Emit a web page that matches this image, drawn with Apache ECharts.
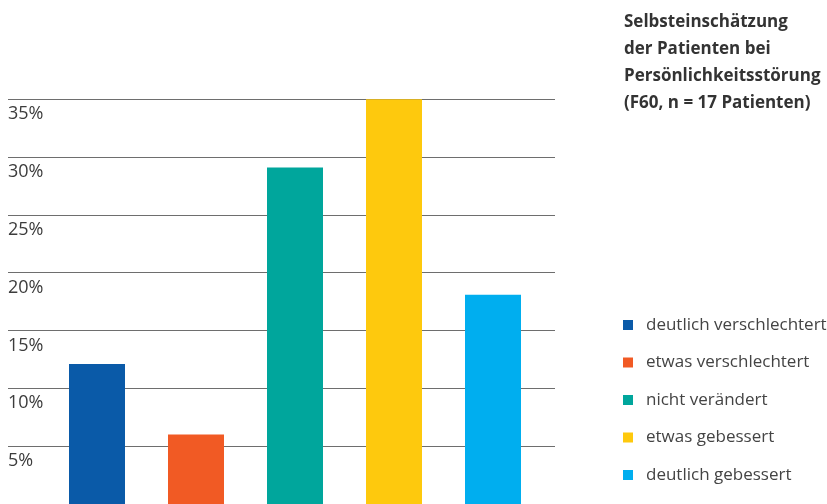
<!DOCTYPE html>
<html>
<head>
<meta charset="utf-8">
<script src="https://cdn.jsdelivr.net/npm/echarts@6/dist/echarts.min.js"></script>
<style>
html,body{margin:0;padding:0;background:#fff;}
#chart{width:827px;height:504px;}
</style>
</head>
<body>
<div id="chart"></div>
<script>
// Data
var categories = ['deutlich verschlechtert', 'etwas verschlechtert', 'nicht verändert', 'etwas gebessert', 'deutlich gebessert'];
var values = [12.1, 6.0, 29.1, 35.1, 18.1];
var colors = ['#0a5aa8', '#f15a24', '#00a69c', '#fec90d', '#00aeef'];
var yTicks = [0, 5, 10, 15, 20, 25, 30, 35];
var titleText = 'Selbsteinschätzung\nder Patienten bei\nPersönlichkeitsstörung\n(F60, n = 17 Patienten)';

var FONT = 'Open Sans';
var chart = echarts.init(document.getElementById('chart'), null, {renderer: 'canvas'});

var series = categories.map(function (name, i) {
  var d = categories.map(function (c, j) { return j === i ? values[i] : '-'; });
  return {
    name: name,
    type: 'bar',
    stack: 'all',
    xAxisIndex: 1,
    yAxisIndex: 1,
    barWidth: 56,
    itemStyle: {color: colors[i]},
    data: d
  };
});

var option = {
  animation: false,
  backgroundColor: '#ffffff',
  title: {
    text: titleText,
    left: 624,
    top: 8.5,
    padding: 0,
    textStyle: {fontFamily: FONT, fontWeight: 'bold', fontSize: 17, lineHeight: 27, color: '#333333'}
  },
  legend: {
    orient: 'vertical',
    left: 623,
    top: 315,
    padding: 0,
    itemWidth: 10,
    itemHeight: 10,
    itemGap: 17.5,
    icon: 'rect',
    textStyle: {fontFamily: FONT, fontSize: 17, lineHeight: 20, color: '#444444', padding: [0, 0, 0, 8]},
    data: categories
  },
  grid: [
    {left: 8, right: 272, top: 99.3, bottom: -1, containLabel: false},
    {left: 47.5, right: 284.5, top: 99.3, bottom: -1, containLabel: false}
  ],
  xAxis: [
    {type: 'category', gridIndex: 0, data: categories, show: false},
    {type: 'category', gridIndex: 1, data: categories, show: false}
  ],
  yAxis: [
    {
      type: 'value', gridIndex: 0, min: 0, max: 35, interval: 5,
      axisLine: {show: false}, axisTick: {show: false},
      splitLine: {show: true, lineStyle: {color: '#6e6e6e', width: 1.2}},
      axisLabel: {
        inside: true, margin: 0, verticalAlign: 'top', padding: [6, 0, 0, 0],
        fontFamily: FONT, fontSize: 18, color: '#3c3c3c',
        formatter: function (v) { return (v === 0 || yTicks.indexOf(v) < 0) ? '' : v + '%'; }
      }
    },
    {type: 'value', gridIndex: 1, min: 0, max: 35, interval: 5, show: false, splitLine: {show: false}}
  ],
  series: series
};
chart.setOption(option);
</script>
</body>
</html>
